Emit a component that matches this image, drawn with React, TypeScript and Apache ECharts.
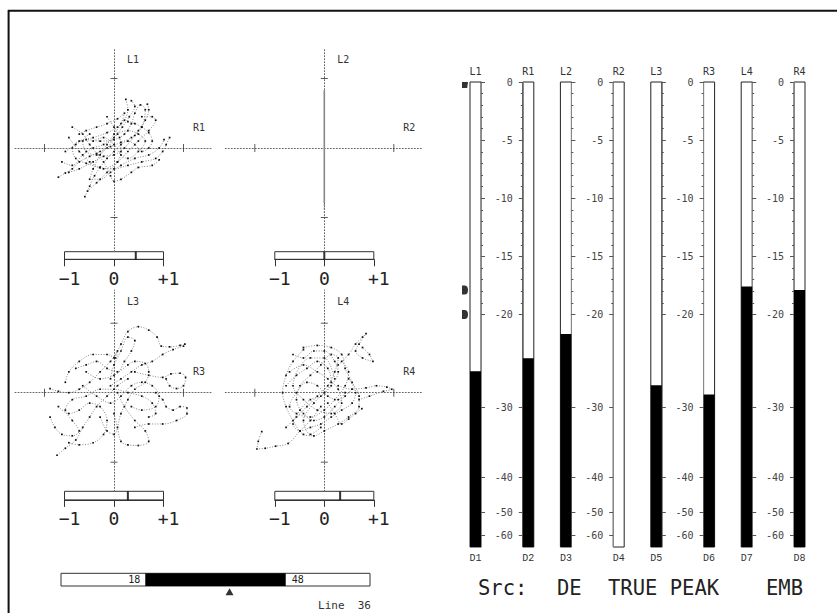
import React, { useEffect, useRef } from "react";
import * as echarts from "echarts";

// ---------- Meter data ----------
const METER_DB = [0, -20, -30, -40, -50, -60, -65];
const METER_POS = [0, 20, 28, 34, 37, 39, 40];
const METER_MAJOR = [0, -5, -10, -15, -20, -30, -40, -50, -60];
const METER_MINOR = [0, -1, -2, -3, -4, -5, -6, -7, -8, -9, -10, -11, -12, -13, -14, -15, -16, -17, -18, -19, -20];
const METER_TOP = ["L1", "R1", "L2", "R2", "L3", "R3", "L4", "R4"];
const METER_BOTTOM = ["D1", "D2", "D3", "D4", "D5", "D6", "D7", "D8"];
const METER_LEVEL = [-26.1, -24.7, -22.1, -70, -27.6, -28.6, -17.6, -17.9];
const L1_MARKERS = [0, -17.9, -20];

// ---------- Lissajous / correlation ----------
const PANEL_Y = ["L1", "L2", "L3", "L4"];
const PANEL_X = ["R1", "R2", "R3", "R4"];
const CORRELATION = [0.44, 0.0, 0.28, 0.32];
const CORR_TICKS = ["\u22121", "0", "+1"];

const LISS_1 = [
  [[-0.8, -0.42], [-0.7, -0.36], [-0.6, -0.3], [-0.5, -0.2], [-0.35, -0.12], [-0.2, -0.05], [-0.05, 0.02], [0.1, 0.08], [0.25, 0.15], [0.35, 0.25], [0.45, 0.4], [0.5, 0.55], [0.48, 0.63]],
  [[0.17, 0.7], [0.2, 0.55], [0.15, 0.4], [0.05, 0.3], [-0.1, 0.22], [-0.3, 0.15], [-0.5, 0.1], [-0.6, 0.0], [-0.55, -0.15], [-0.4, -0.22], [-0.2, -0.28], [0.0, -0.3], [0.2, -0.25], [0.4, -0.2], [0.6, -0.15], [0.7, -0.05], [0.75, 0.05], [0.8, 0.15]],
  [[-0.42, -0.7], [-0.35, -0.55], [-0.28, -0.4], [-0.2, -0.28], [-0.1, -0.15], [0.0, -0.05], [0.1, 0.05], [0.2, 0.1], [0.3, 0.05], [0.4, -0.05], [0.5, 0.0], [0.55, 0.1], [0.5, 0.22], [0.4, 0.3], [0.3, 0.35], [0.2, 0.38]],
  [[-0.6, 0.3], [-0.45, 0.2], [-0.35, 0.05], [-0.25, -0.08], [-0.15, -0.2], [-0.05, -0.4], [0.0, -0.48], [0.1, -0.45], [0.25, -0.35], [0.35, -0.28], [0.55, -0.25], [0.65, -0.17]],
  [[-0.7, -0.05], [-0.55, 0.05], [-0.4, 0.12], [-0.2, 0.1], [0.0, 0.12], [0.15, 0.2], [0.25, 0.35], [0.3, 0.5], [0.38, 0.62], [0.45, 0.55], [0.4, 0.3], [0.3, 0.18], [0.15, 0.0], [0.0, -0.1], [-0.15, -0.12], [-0.3, -0.2], [-0.5, -0.3], [-0.65, -0.35]],
  [[-0.1, 0.45], [0.0, 0.3], [0.08, 0.15], [0.1, -0.05], [0.05, -0.2], [-0.1, -0.35], [-0.25, -0.5], [-0.38, -0.62]],
  [[-0.3, 0.1], [-0.15, 0.15], [0.0, 0.05], [0.1, -0.1], [0.2, -0.15], [0.35, -0.05], [0.45, 0.1], [0.35, 0.2], [0.2, 0.25], [0.05, 0.2], [-0.1, 0.0], [-0.25, -0.1], [-0.4, -0.05], [-0.45, 0.1], [-0.35, 0.2]],
  [[-0.75, -0.2], [-0.6, -0.25], [-0.45, -0.1], [-0.3, 0.0], [-0.15, 0.05], [0.0, 0.15], [0.12, 0.3], [0.22, 0.45], [0.3, 0.6], [0.25, 0.68]],
  [[-0.5, 0.2], [-0.4, 0.25], [-0.25, 0.3], [-0.1, 0.35], [0.05, 0.42], [0.15, 0.5], [0.1, 0.35], [0.0, 0.2], [-0.1, 0.05], [-0.2, -0.1], [-0.3, -0.3], [-0.35, -0.45], [-0.2, -0.45], [-0.05, -0.35], [0.1, -0.25], [0.3, -0.15], [0.5, -0.1], [0.65, 0.0], [0.72, 0.12]],
  [[-0.65, 0.15], [-0.5, -0.05], [-0.35, -0.2], [-0.15, -0.3], [0.05, -0.2], [0.2, -0.05], [0.35, 0.1], [0.5, 0.25], [0.6, 0.4], [0.55, 0.45], [0.4, 0.45]],
];
const LISS_2 = [[[0, 0.83], [0, -0.79]]];
const LISS_2_TAIL = [[[0, -0.8], [0, -0.93]]];
const LISS_3 = [
  [[0.0, 0.5], [0.1, 0.7], [0.2, 0.88], [0.35, 0.95], [0.5, 0.9], [0.62, 0.8], [0.68, 0.67], [0.8, 0.66], [0.95, 0.68], [1.02, 0.7]],
  [[1.0, 0.67], [0.85, 0.62], [0.7, 0.55], [0.55, 0.45], [0.4, 0.4], [0.25, 0.3], [0.1, 0.2], [-0.05, 0.1]],
  [[-0.92, 0.06], [-0.8, 0.02], [-0.65, 0.0], [-0.5, 0.05], [-0.35, 0.15], [-0.2, 0.3], [-0.05, 0.45], [0.05, 0.6], [0.02, 0.5], [-0.1, 0.55], [-0.3, 0.55], [-0.5, 0.45], [-0.65, 0.3], [-0.7, 0.15]],
  [[0.3, 0.3], [0.5, 0.25], [0.7, 0.22], [0.82, 0.27], [0.95, 0.28], [1.03, 0.22], [1.0, 0.1], [0.9, 0.06], [0.8, 0.1], [0.75, 0.2]],
  [[0.6, 0.0], [0.7, -0.1], [0.75, -0.2], [0.85, -0.25], [0.95, -0.2], [1.05, -0.22], [1.05, -0.3], [0.9, -0.4], [0.7, -0.45], [0.5, -0.45], [0.3, -0.5]],
  [[0.0, -0.3], [0.05, -0.5], [0.1, -0.7], [0.2, -0.75], [0.35, -0.76], [0.5, -0.7], [0.45, -0.55], [0.3, -0.4], [0.15, -0.2], [0.05, 0.0]],
  [[-0.82, -0.9], [-0.7, -0.8], [-0.55, -0.68], [-0.45, -0.5], [-0.35, -0.35], [-0.25, -0.2], [-0.1, -0.05], [0.05, 0.1], [0.2, 0.2]],
  [[-0.92, -0.35], [-0.85, -0.5], [-0.75, -0.6], [-0.6, -0.62], [-0.5, -0.55], [-0.6, -0.4], [-0.7, -0.25], [-0.6, -0.1], [-0.4, -0.05], [-0.2, 0.05], [0.0, 0.05], [0.2, 0.0], [0.4, -0.05], [0.55, -0.15], [0.6, -0.3], [0.5, -0.35]],
  [[-0.4, 0.3], [-0.2, 0.2], [0.0, 0.25], [0.2, 0.4], [0.3, 0.45], [0.45, 0.42], [0.5, 0.3], [0.45, 0.15], [0.3, 0.05], [0.2, -0.1], [0.1, -0.3], [0.0, -0.6], [-0.1, -0.55], [-0.2, -0.35]],
  [[-0.8, -0.2], [-0.65, -0.3], [-0.5, -0.25], [-0.35, -0.15], [-0.2, -0.2], [-0.1, -0.4], [-0.15, -0.6], [-0.3, -0.72], [-0.5, -0.75], [-0.65, -0.72]],
  [[-0.55, 0.35], [-0.4, 0.4], [-0.25, 0.45], [-0.1, 0.35], [0.05, 0.3], [0.15, 0.45], [0.25, 0.6], [0.3, 0.75], [0.2, 0.8], [0.1, 0.6], [0.0, 0.4], [-0.05, 0.2]],
  [[0.25, -0.2], [0.4, -0.25], [0.6, -0.2], [0.65, -0.05], [0.55, 0.1], [0.4, 0.15], [0.25, 0.1], [0.1, -0.05], [-0.05, -0.15], [-0.25, -0.05], [-0.45, 0.1]],
];
const LISS_4 = [
  [[-0.3, 0.65], [-0.1, 0.68], [0.1, 0.65], [0.25, 0.55], [0.3, 0.35], [0.4, 0.15], [0.5, -0.05], [0.5, -0.2], [0.35, -0.35], [0.2, -0.45], [0.0, -0.55], [-0.15, -0.62], [-0.3, -0.6], [-0.45, -0.4], [-0.55, -0.2], [-0.6, 0.0], [-0.55, 0.25], [-0.45, 0.45], [-0.3, 0.62]],
  [[-0.55, -0.5], [-0.4, -0.35], [-0.25, -0.2], [-0.1, -0.05], [0.05, 0.1], [0.15, 0.3], [0.2, 0.5], [0.1, 0.55], [-0.05, 0.4], [-0.2, 0.25], [-0.35, 0.1], [-0.4, -0.1], [-0.3, -0.3], [-0.15, -0.4], [0.0, -0.35], [0.15, -0.2], [0.3, -0.05], [0.4, 0.05]],
  [[0.2, 0.4], [0.35, 0.55], [0.45, 0.7], [0.55, 0.8], [0.6, 0.85], [0.5, 0.7], [0.45, 0.6], [0.55, 0.5], [0.7, 0.45], [0.65, 0.55], [0.55, 0.65]],
  [[0.2, 0.1], [0.4, 0.05], [0.6, 0.07], [0.75, 0.1], [0.9, 0.08], [0.97, 0.05], [0.85, 0.02], [0.65, -0.05], [0.5, -0.1]],
  [[-0.05, -0.2], [-0.2, -0.4], [-0.35, -0.55], [-0.52, -0.73], [-0.7, -0.77], [-0.85, -0.8], [-0.97, -0.81], [-0.95, -0.7], [-0.9, -0.56]],
  [[0.05, -0.15], [0.15, -0.3], [0.25, -0.45], [0.35, -0.38], [0.45, -0.3], [0.54, -0.23]],
  [[-0.5, 0.3], [-0.3, 0.4], [-0.1, 0.3], [0.05, 0.2], [0.2, 0.05], [0.25, -0.15], [0.1, -0.3], [-0.1, -0.25], [-0.3, -0.1], [-0.45, 0.1], [-0.2, 0.5], [0.0, 0.5], [0.15, 0.2]],
  [[-0.45, 0.55], [-0.3, 0.5], [-0.15, 0.6], [0.0, 0.6], [0.15, 0.45], [0.2, 0.3], [0.1, 0.1], [-0.05, -0.05], [-0.2, -0.1], [-0.35, -0.25], [-0.45, -0.45], [-0.35, -0.55], [-0.2, -0.5], [-0.05, -0.45], [0.1, -0.35], [0.25, -0.25], [0.4, -0.15], [0.45, 0.0], [0.35, 0.2]],
  [[-0.55, 0.1], [-0.4, 0.25], [-0.25, 0.35], [-0.1, 0.45], [0.05, 0.35], [0.1, 0.15], [0.0, 0.0], [-0.15, -0.15], [-0.3, -0.4], [-0.2, -0.6], [-0.05, -0.5]],
  [[0.3, 0.0], [0.2, -0.1], [0.05, -0.05], [-0.1, 0.1], [-0.25, 0.15], [-0.4, 0.0], [-0.5, -0.2], [-0.4, -0.3], [-0.2, -0.35], [0.0, -0.25], [0.15, -0.1], [0.3, 0.1], [0.35, 0.3], [0.25, 0.45]],
];
const LISS_TICKS = [-1, 1];

// ---------- Line selector ----------
const LINE_RANGE = [18, 48];
const LINE_CURRENT = 36;
const LINE_MAX = 66;

// ---------- Status ----------
const STATUS = ["Src:", "DE", "TRUE PEAK", "EMB"];

const FLOOR = METER_POS[METER_POS.length - 1];
function toMeter(db: number): number {
  const d = Math.max(METER_DB[METER_DB.length - 1], Math.min(0, db));
  for (let i = 0; i < METER_DB.length - 1; i++) {
    const a = METER_DB[i], b = METER_DB[i + 1];
    if (d <= a && d >= b) {
      const t = (a - d) / (a - b);
      return FLOOR - (METER_POS[i] + t * (METER_POS[i + 1] - METER_POS[i]));
    }
  }
  return 0;
}
function fromMeter(v: number): number {
  const pos = FLOOR - v;
  for (let i = 0; i < METER_POS.length - 1; i++) {
    const p0 = METER_POS[i], p1 = METER_POS[i + 1];
    if (pos >= p0 - 1e-6 && pos <= p1 + 1e-6) {
      const t = (pos - p0) / (p1 - p0);
      return METER_DB[i] + t * (METER_DB[i + 1] - METER_DB[i]);
    }
  }
  return METER_DB[METER_DB.length - 1];
}

const MONO = '"DejaVu Sans Mono", monospace';

function buildOption() {
  const grid: any[] = [], xAxis: any[] = [], yAxis: any[] = [], series: any[] = [], graphic: any[] = [];

  // frame
  graphic.push({ type: "line", shape: { x1: 8, y1: 10.8, x2: 837, y2: 10.8 }, style: { stroke: "#111", lineWidth: 2 } });
  graphic.push({ type: "line", shape: { x1: 8.6, y1: 10, x2: 8.6, y2: 613 }, style: { stroke: "#111", lineWidth: 2 } });

  // ---------- Lissajous panels ----------
  const UNIT = 69.5;
  const panels = [
    { cx: 114, cy: 148, top: 48, boxTop: 251.7, box: 7.6, traces: LISS_1 },
    { cx: 324.3, cy: 148, top: 48, boxTop: 251.7, box: 7.6, traces: LISS_2 },
    { cx: 114, cy: 392.7, top: 290, boxTop: 491.3, box: 8.6, traces: LISS_3 },
    { cx: 324.3, cy: 392.7, top: 290, boxTop: 491.3, box: 8.6, traces: LISS_4 },
  ];
  panels.forEach((p, pi) => {
    const gi = grid.length;
    grid.push({ left: p.cx - 99, top: p.top, width: 198, height: p.boxTop - p.top, show: false });
    const xi = xAxis.length;
    const xr = 99 / UNIT;
    const dotted = { color: "#666", type: [1, 2], width: 1 };
    xAxis.push({
      gridIndex: gi, type: "value", min: -xr, max: xr,
      axisLine: { show: true, onZero: true, lineStyle: dotted },
      axisTick: { show: false }, axisLabel: { show: false }, splitLine: { show: false },
    });
    const yi = yAxis.length;
    yAxis.push({
      gridIndex: gi, type: "value", min: -(p.boxTop - p.cy) / UNIT, max: (p.cy - p.top) / UNIT,
      axisLine: { show: true, onZero: true, lineStyle: dotted },
      axisTick: { show: false }, axisLabel: { show: false }, splitLine: { show: false },
    });
    series.push({
      type: "scatter", xAxisIndex: xi, yAxisIndex: yi, silent: true, clip: false,
      symbol: "rect", symbolSize: [1, 8], itemStyle: { color: "#333" },
      data: LISS_TICKS.map((t) => [t, 0]),
    });
    series.push({
      type: "scatter", xAxisIndex: xi, yAxisIndex: yi, silent: true, clip: false,
      symbol: "rect", symbolSize: [7, 1], itemStyle: { color: "#333" },
      data: LISS_TICKS.map((t) => [0, t]),
    });
    if (pi === 1) {
      p.traces.forEach((tr) => series.push({
        type: "line", xAxisIndex: xi, yAxisIndex: yi, data: tr, showSymbol: false, silent: true,
        lineStyle: { color: "#888", width: 1.6 },
      }));
      LISS_2_TAIL.forEach((tr) => series.push({
        type: "line", xAxisIndex: xi, yAxisIndex: yi, data: tr, showSymbol: false, silent: true,
        lineStyle: { color: "#777", width: 1.2, type: [2, 2] },
      }));
    } else {
      p.traces.forEach((tr) => series.push({
        type: "line", xAxisIndex: xi, yAxisIndex: yi, data: tr, smooth: 0.35, silent: true,
        showSymbol: true, symbol: "rect", symbolSize: 1.7, itemStyle: { color: "#111" },
        lineStyle: { color: "#8a8a8a", width: 1, type: [1, 1.6] },
      }));
    }
    graphic.push({ type: "text", style: { text: PANEL_Y[pi], x: p.cx + 13, y: p.top + 11, font: `10px ${MONO}`, fill: "#333", align: "left", verticalAlign: "middle", textAlign: "left", textVerticalAlign: "middle" } });
    graphic.push({ type: "text", style: { text: PANEL_X[pi], x: p.cx + 79, y: p.cy - 21, font: `10px ${MONO}`, fill: "#333", align: "left", verticalAlign: "middle", textAlign: "left", textVerticalAlign: "middle" } });

    // correlation meter
    const cg = grid.length;
    grid.push({ left: p.cx - 49.5, top: p.boxTop, width: 99, height: p.box, show: true, borderColor: "#333", borderWidth: 1, backgroundColor: "#fff" });
    const cxi = xAxis.length;
    xAxis.push({
      gridIndex: cg, type: "value", min: -1, max: 1, interval: 1,
      axisLine: { show: true, lineStyle: { color: "#333", width: 1 } },
      axisTick: { show: true, length: 7, lineStyle: { color: "#333" } },
      axisLabel: {
        show: true, margin: 10, fontSize: 18, fontFamily: MONO, color: "#222",
        formatter: (v: number) => {
          const i = Math.round(v) + 1;
          return i === 1 ? `{c|${CORR_TICKS[i]}}` : `{s|${CORR_TICKS[i]}}`;
        },
        rich: {
          c: { fontSize: 18, fontFamily: MONO, color: "#222" },
          s: { fontSize: 18, fontFamily: MONO, color: "#222", padding: [0, 0, 0, 10] },
        },
      },
      splitLine: { show: false },
    });
    const cyi = yAxis.length;
    yAxis.push({ gridIndex: cg, type: "value", min: 0, max: 1, show: false });
    series.push({
      type: "scatter", xAxisIndex: cxi, yAxisIndex: cyi, silent: true, clip: false,
      symbol: "rect", symbolSize: [2, p.box], itemStyle: { color: "#000" },
      data: [[CORRELATION[pi], 0.5]],
    });
  });

  // ---------- Level meters ----------
  const majorVals = METER_MAJOR.map(toMeter);
  const minorVals = METER_MINOR.map(toMeter);
  for (let k = 0; k < 8; k++) {
    const isL = k % 2 === 0;
    const pair = k >> 1;
    const left = isL ? 470 + 90.4 * pair : 522.8 + 90.4 * pair;
    const gi = grid.length;
    grid.push({ left, top: 82, width: 11, height: 465, show: true, borderColor: "#222", borderWidth: 1, backgroundColor: "#fff" });
    const xb = xAxis.length;
    xAxis.push({
      gridIndex: gi, type: "category", position: "bottom", data: [METER_BOTTOM[k]],
      axisLine: { show: false }, axisTick: { show: false },
      axisLabel: { margin: 6, fontSize: 10, fontFamily: '"Liberation Mono", monospace', color: "#333" },
    });
    xAxis.push({
      gridIndex: gi, type: "category", position: "top", data: [METER_TOP[k]],
      axisLine: { show: false }, axisTick: { show: false },
      axisLabel: { margin: 6, fontSize: 10, fontFamily: MONO, color: "#333" },
    });
    const ym = yAxis.length;
    yAxis.push({
      gridIndex: gi, type: "value", min: 0, max: FLOOR, position: isL ? "right" : "left",
      axisLine: { show: true, lineStyle: { color: "#888", width: 1 } },
      axisTick: { show: true, length: 4, customValues: majorVals, lineStyle: { color: "#555" } },
      axisLabel: {
        show: !isL, customValues: majorVals, margin: 10, fontSize: 10, fontFamily: MONO, color: "#444",
        formatter: (v: number) => { const d = Math.round(fromMeter(v)); return d === 0 ? "0" : String(d); },
      },
      splitLine: { show: false },
    });
    yAxis.push({
      gridIndex: gi, type: "value", min: 0, max: FLOOR, position: isL ? "right" : "left",
      axisLine: { show: false },
      axisTick: { show: true, length: 2, customValues: minorVals, lineStyle: { color: "#555" } },
      axisLabel: { show: false }, splitLine: { show: false },
    });
    series.push({
      type: "bar", xAxisIndex: xb, yAxisIndex: ym, barWidth: "100%", silent: true,
      itemStyle: { color: "#000" }, data: [toMeter(METER_LEVEL[k])],
    });
    if (k === 0) {
      series.push({
        type: "scatter", xAxisIndex: xb, yAxisIndex: ym, silent: true, clip: false, z: 5,
        itemStyle: { color: "#000" },
        data: L1_MARKERS.map((db, i) => i === 0
          ? { value: [METER_BOTTOM[0], toMeter(db)], symbol: "path://M0,0 L7,0 L6,6 L0,6 Z", symbolSize: [6, 6], symbolOffset: [-10.5, 3] }
          : { value: [METER_BOTTOM[0], toMeter(db)], symbol: "path://M0,0 L3,0 Q7,0 7,5 Q7,10 3,10 L0,10 Z", symbolSize: [6, 9], symbolOffset: [-10.5, 0] }),
      });
    }
  }

  // ---------- Line selector ----------
  const lg = grid.length;
  grid.push({ left: 61, top: 573.3, width: 309, height: 12.7, show: true, borderColor: "#333", borderWidth: 1, backgroundColor: "#fff" });
  const lx = xAxis.length;
  xAxis.push({ gridIndex: lg, type: "value", min: 0, max: LINE_MAX, show: false });
  const ly = yAxis.length;
  yAxis.push({ gridIndex: lg, type: "category", data: ["line"], show: false });
  series.push({
    type: "bar", xAxisIndex: lx, yAxisIndex: ly, stack: "line", barWidth: "100%", silent: true,
    itemStyle: { color: "rgba(0,0,0,0)" }, data: [LINE_RANGE[0]],
    label: { show: true, position: "insideRight", distance: 5, formatter: String(LINE_RANGE[0]), fontSize: 10, fontFamily: MONO, color: "#222" },
  });
  series.push({
    type: "bar", xAxisIndex: lx, yAxisIndex: ly, stack: "line", barWidth: "100%", silent: true,
    itemStyle: { color: "#000" }, data: [LINE_RANGE[1] - LINE_RANGE[0]],
    label: { show: true, position: "right", distance: 6, formatter: String(LINE_RANGE[1]), fontSize: 10, fontFamily: MONO, color: "#222" },
  });
  series.push({
    type: "scatter", xAxisIndex: lx, yAxisIndex: ly, silent: true, clip: false,
    symbol: "triangle", symbolSize: [8, 7], symbolOffset: [0, 12], itemStyle: { color: "#000" },
    data: [[LINE_CURRENT, "line"]],
  });
  graphic.push({ type: "text", style: { text: `Line  ${LINE_CURRENT}`, x: 371, y: 605, font: `11px ${MONO}`, fill: "#333", align: "right", verticalAlign: "middle", textAlign: "right", textVerticalAlign: "middle" } });

  // ---------- Status line ----------
  const statusX = [478, 557, 608, 766];
  STATUS.forEach((s, i) => graphic.push({
    type: "text", style: { text: s, x: statusX[i], y: 588, font: `20.5px ${MONO}`, fill: "#222", align: "left", verticalAlign: "middle", textAlign: "left", textVerticalAlign: "middle" },
  }));

  return { animation: false, backgroundColor: "#fff", grid, xAxis, yAxis, series, graphic };
}

export default function App() {
  const ref = useRef<HTMLDivElement>(null);
  useEffect(() => {
    if (!ref.current) return;
    const chart = echarts.init(ref.current, null, { renderer: "svg" });
    chart.setOption(buildOption() as any);
    return () => chart.dispose();
  }, []);
  return <div ref={ref} style={{ position: "absolute", left: 0, top: 0, width: 837, height: 613, background: "#fff" }} />;
}
